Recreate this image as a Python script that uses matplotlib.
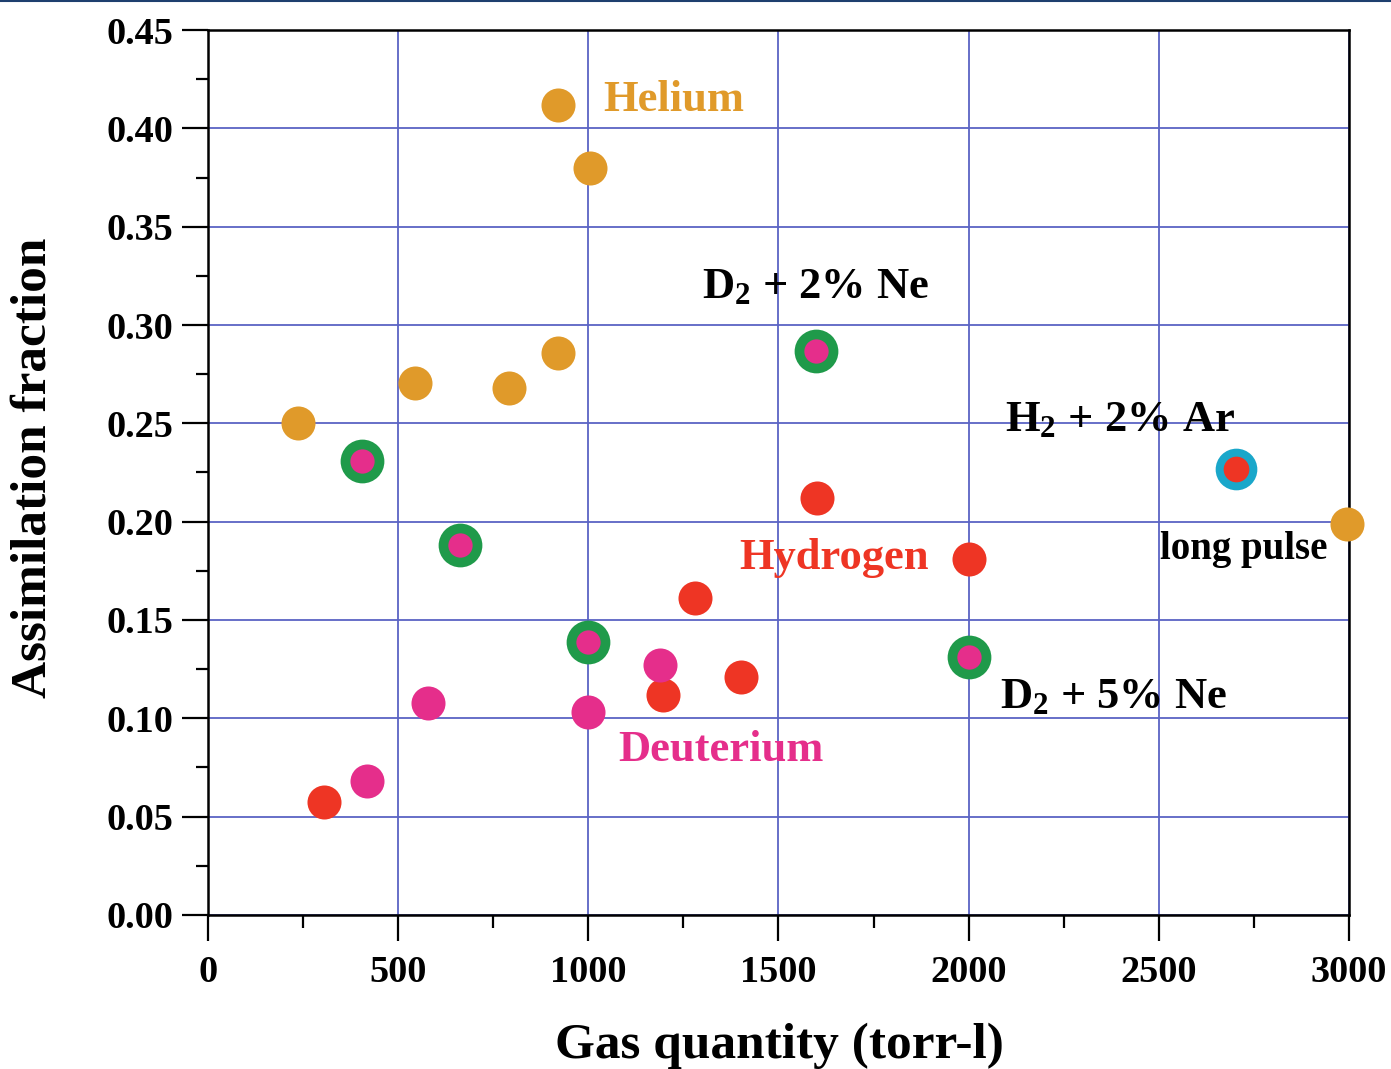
import matplotlib
matplotlib.use("Agg")
import matplotlib.pyplot as plt
from matplotlib.lines import Line2D

plt.rcParams['font.family'] = ['Liberation Serif', 'DejaVu Serif']
plt.rcParams['font.weight'] = 'bold'
plt.rcParams['mathtext.fontset'] = 'custom'
plt.rcParams['mathtext.rm'] = 'Liberation Serif:bold'
plt.rcParams['mathtext.bf'] = 'Liberation Serif:bold'
plt.rcParams['mathtext.it'] = 'Liberation Serif:bold:italic'

# gas quantity (torr-l) vs assimilation fraction
helium_x = [920, 1004, 920, 544, 791, 237, 2995]
helium_y = [0.412, 0.380, 0.286, 0.2705, 0.268, 0.250, 0.199]

hydrogen_x = [1601, 2001, 1280, 1401, 1196, 305]
hydrogen_y = [0.212, 0.181, 0.161, 0.121, 0.112, 0.0575]

deuterium_x = [1188, 578, 999, 418]
deuterium_y = [0.127, 0.108, 0.103, 0.068]

# deuterium with neon admixture
d2ne_x = [1599, 405, 663, 999, 2001]
d2ne_y = [0.287, 0.231, 0.188, 0.139, 0.131]

# hydrogen + 2% argon
h2ar_x = [2703]
h2ar_y = [0.227]

orange = '#E09A2A'
red = '#EE3524'
magenta = '#E52E8B'
green = '#1F9A4A'
cyan = '#1AA7CA'
grid_blue = '#5B63C4'

fig = plt.figure(figsize=(13.91, 10.69), dpi=100)
ax = fig.add_axes([0.1495, 0.1441, 0.8203, 0.8278])

ax.grid(True, color=grid_blue, lw=1.3, zorder=0)
ax.set_axisbelow(True)

ms = 24.5
ax.plot(helium_x, helium_y, 'o', ms=ms, color=orange, mec='none', zorder=3, clip_on=False)
ax.plot(hydrogen_x, hydrogen_y, 'o', ms=ms, color=red, mec='none', zorder=3)
ax.plot(deuterium_x, deuterium_y, 'o', ms=ms, color=magenta, mec='none', zorder=3)
ax.plot(d2ne_x, d2ne_y, 'o', ms=31.5, color=green, mec='none', zorder=3)
ax.plot(d2ne_x, d2ne_y, 'o', ms=17.5, color=magenta, mec='none', zorder=4)
ax.plot(h2ar_x, h2ar_y, 'o', ms=30, color=cyan, mec='none', zorder=3)
ax.plot(h2ar_x, h2ar_y, 'o', ms=18.5, color=red, mec='none', zorder=4)

ax.text(1039, 0.4145, 'Helium', color=orange, fontsize=32, va='center')
ax.text(1299, 0.3193, r'D$_2$ + 2% Ne', color='black', fontsize=32, va='center')
ax.text(2095, 0.2517, r'H$_2$ + 2% Ar', color='black', fontsize=32, va='center')
ax.text(2503, 0.186, 'long pulse', color='black', fontsize=28, va='center')
ax.text(1396, 0.1815, 'Hydrogen', color=red, fontsize=32, va='center')
ax.text(1078, 0.0839, 'Deuterium', color=magenta, fontsize=32, va='center')
ax.text(2082, 0.1108, r'D$_2$ + 5% Ne', color='black', fontsize=32, va='center')

ax.set_xlim(0, 3000)
ax.set_ylim(0, 0.45)
ax.set_xticks(range(0, 3001, 500))
ax.set_xticks(range(250, 3000, 500), minor=True)
ax.set_yticks([i * 0.05 for i in range(10)])
ax.set_yticks([0.025 + i * 0.05 for i in range(9)], minor=True)
ax.set_yticklabels(['%.2f' % (i * 0.05) for i in range(10)])
ax.tick_params(which='major', length=19, width=1.6, labelsize=27.5, pad=6)
ax.tick_params(which='minor', length=9, width=1.6)
ax.tick_params(axis='x', which='major', pad=10)
for s in ax.spines.values():
    s.set_linewidth(1.8)

ax.set_xlabel('Gas quantity (torr-l)', fontsize=37, fontweight='bold')
ax.set_ylabel('Assimilation fraction', fontsize=37, fontweight='bold')
ax.xaxis.set_label_coords(0.501, -0.122)
ax.yaxis.set_label_coords(-0.133, 0.505)

fig.add_artist(Line2D([0, 1], [0.999, 0.999], color='#1E3F6E', lw=1.5))

fig.savefig('out.png', dpi=100)
